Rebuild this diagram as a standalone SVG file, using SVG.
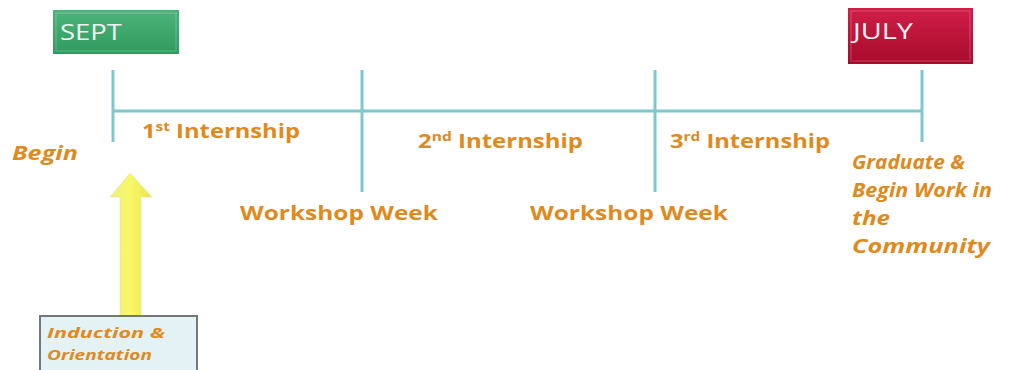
<svg xmlns="http://www.w3.org/2000/svg" width="1024" height="370" viewBox="0 0 1024 370">
<style>
.lbl{font-family:"Open Sans","Liberation Sans",sans-serif;font-weight:bold;fill:#e08a1e;font-size:20px}
.it{font-style:italic}
.tl{stroke:#7ec8cc;stroke-width:3;fill:none}
.mon{font-family:"Open Sans","Liberation Sans",sans-serif;fill:#f2f2f2;font-size:22px}
.bev{fill:none;stroke:#ffffff;stroke-opacity:0.12;stroke-width:2}
</style>
<defs>
<linearGradient id="g" x1="0" y1="0" x2="0" y2="1"><stop offset="0" stop-color="#4cb47a"/><stop offset="1" stop-color="#2f9a5e"/></linearGradient>
<linearGradient id="r" x1="0" y1="0" x2="0" y2="1"><stop offset="0" stop-color="#d01e48"/><stop offset="1" stop-color="#a80a2c"/></linearGradient>
<linearGradient id="y" x1="0" y1="0" x2="1" y2="0"><stop offset="0" stop-color="#f0f07a"/><stop offset="0.5" stop-color="#f8f868"/><stop offset="1" stop-color="#e6e650"/></linearGradient>
</defs>
<g id="sept">
<rect x="53" y="10" width="126" height="44" fill="url(#g)"/>
<rect class="bev" x="56" y="13" width="120" height="38"/>
<text class="mon" x="60" y="40" textLength="62" lengthAdjust="spacingAndGlyphs">SEPT</text>
</g>
<g id="july">
<rect x="848" y="8" width="125" height="56" fill="url(#r)"/>
<rect class="bev" x="851" y="11" width="119" height="50"/>
<text class="mon" x="853" y="39" textLength="60" lengthAdjust="spacingAndGlyphs">JULY</text>
</g>
<g id="connectors">
<line class="tl" x1="113" y1="111" x2="922" y2="111"/>
<line class="tl" x1="113" y1="70" x2="113" y2="142"/>
<line class="tl" x1="362" y1="70" x2="362" y2="192"/>
<line class="tl" x1="655" y1="70" x2="655" y2="192"/>
<line class="tl" x1="922" y1="70" x2="922" y2="142"/>
<path d="M130 173 L152 197 L141 197 L141 316 L120 316 L120 197 L110 197 Z" fill="url(#y)" stroke="#e0e0a0" stroke-width="0.5"/>
</g>
<g id="begin"><text class="lbl it" x="12" y="160" textLength="66" lengthAdjust="spacingAndGlyphs">Begin</text></g>
<g id="int1"><text class="lbl" x="142" y="138" textLength="158" lengthAdjust="spacingAndGlyphs">1<tspan font-size="13" dy="-7">st</tspan><tspan dy="7"> Internship</tspan></text></g>
<g id="int2"><text class="lbl" x="418" y="148" textLength="165" lengthAdjust="spacingAndGlyphs">2<tspan font-size="13" dy="-7">nd</tspan><tspan dy="7"> Internship</tspan></text></g>
<g id="int3"><text class="lbl" x="670" y="148" textLength="160" lengthAdjust="spacingAndGlyphs">3<tspan font-size="13" dy="-7">rd</tspan><tspan dy="7"> Internship</tspan></text></g>
<g id="ws1"><text class="lbl" x="240" y="220" textLength="198" lengthAdjust="spacingAndGlyphs">Workshop Week</text></g>
<g id="ws2"><text class="lbl" x="530" y="220" textLength="198" lengthAdjust="spacingAndGlyphs">Workshop Week</text></g>
<g id="grad">
<text class="lbl it" x="852" y="169" textLength="113" lengthAdjust="spacingAndGlyphs">Graduate &amp;</text>
<text class="lbl it" x="852" y="197" textLength="140" lengthAdjust="spacingAndGlyphs">Begin Work in</text>
<text class="lbl it" x="852" y="225" textLength="38" lengthAdjust="spacingAndGlyphs">the</text>
<text class="lbl it" x="852" y="253" textLength="138" lengthAdjust="spacingAndGlyphs">Community</text>
</g>
<g id="induction">
<rect x="40" y="316" width="157" height="60" fill="#e3f2f4" stroke="#777" stroke-width="2"/>
<text class="lbl it" x="47" y="338" style="font-size:15px" textLength="118" lengthAdjust="spacingAndGlyphs">Induction &amp;</text>
<text class="lbl it" x="47" y="360" style="font-size:15px" textLength="105" lengthAdjust="spacingAndGlyphs">Orientation</text>
</g>
</svg>
